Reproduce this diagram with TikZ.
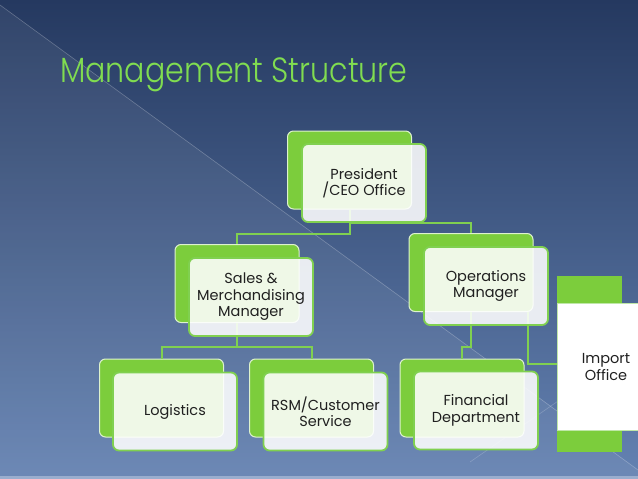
\documentclass[tikz,border=0pt]{standalone}
\usepackage{fontspec}
\setmainfont{Poppins}
\IfFontExistsTF{Poppins Light}{\newfontfamily\titlefont{Poppins Light}}{\newfontfamily\titlefont{Poppins}}
\usetikzlibrary{calc}
\definecolor{bgtop}{HTML}{253960}
\definecolor{bgbot}{HTML}{6482B2}
\definecolor{gback}{HTML}{7CCD3C}
\definecolor{gline}{HTML}{80D050}
\definecolor{titlec}{HTML}{80DC50}
\definecolor{txt}{HTML}{202020}
\definecolor{strip}{HTML}{9AAECE}
\begin{document}
\begin{tikzpicture}[x=1pt,y=-1pt,
 backbox/.style={draw=white!75!gback, line width=1pt, fill=gback, rounded corners=6pt, minimum width=124pt, minimum height=78pt, inner sep=0pt},
 frontbox/.style={draw=gline, line width=1.8pt, fill=white, fill opacity=0.88, text opacity=1, rounded corners=6pt, minimum width=124pt, minimum height=78pt, align=center, font=\fontsize{14.5}{16.5}\selectfont, text=txt, inner sep=0pt},
 conn/.style={draw=gline, line width=2pt}]
\useasboundingbox (0,0) rectangle (638,479);
\fill[top color=bgtop, bottom color=bgbot] (0,0) rectangle (638,479);
\fill[white, opacity=0.06] (0,5) -- (638,470) -- (638,479) -- (0,479) -- cycle;
\draw[white, opacity=0.25, line width=0.6pt] (0,5) -- (638,470);
\draw[white, opacity=0.2, line width=0.6pt] (470,462) -- (600,372);
\fill[strip] (0,476) rectangle (638,479);

\node[anchor=base west, inner sep=0pt, text=titlec, font=\titlefont\fontsize{35}{35}\selectfont] (title) at (60,82) {\scalebox{0.86}[1]{Management Structure}};

% back boxes
\node[backbox] (presb) at (349.5,170) {};
\node[backbox] (salesb) at (237,283.5) {};
\node[backbox] (opsb) at (471,272.5) {};
\node[backbox] (logb) at (161.5,398) {};
\node[backbox] (rsmb) at (311.5,398) {};
\node[backbox] (finb) at (462,398) {};
\node[fill=gback, minimum width=65pt, minimum height=176pt, inner sep=0pt] (impb) at (589.5,364) {};
\node[fill=white, draw=gline!50!white, line width=0.8pt, minimum width=98pt, minimum height=127pt, inner sep=0pt, align=center, font=\fontsize{14.5}{16.5}\selectfont, text=txt] (imp) at (606,367) {Import\\Office};

% connectors
\draw[conn] (presb.south) -- ++(0,24) -| (salesb.north);
\draw[conn] ($(presb.south)+(0,13)$) -| (opsb.north);
\draw[conn] (salesb.south) -- ++(0,24) -| (logb.north);
\draw[conn] (salesb.south) -- ++(0,24) -| (rsmb.north);
\draw[conn] (opsb.south) |- ($(finb.north)+(0,-12)$) -- (finb.north);
\draw[conn] ($(opsb.south east)+(-6,0)$) |- ([yshift=3.5pt]imp.west);

% front boxes
\node[frontbox] (pres) at (364,183) {President\\/CEO Office};
\node[frontbox] (sales) at (251,297) {Sales \&\\Merchandising\\Manager};
\node[frontbox] (ops) at (486,286) {Operations\\Manager};
\node[frontbox] (log) at (175,411.5) {Logistics};
\node[frontbox] (rsm) at (325.5,411.5) {RSM/Customer\\Service};
\node[frontbox] (fin) at (476,410.5) {Financial\\Department};
\end{tikzpicture}
\end{document}
